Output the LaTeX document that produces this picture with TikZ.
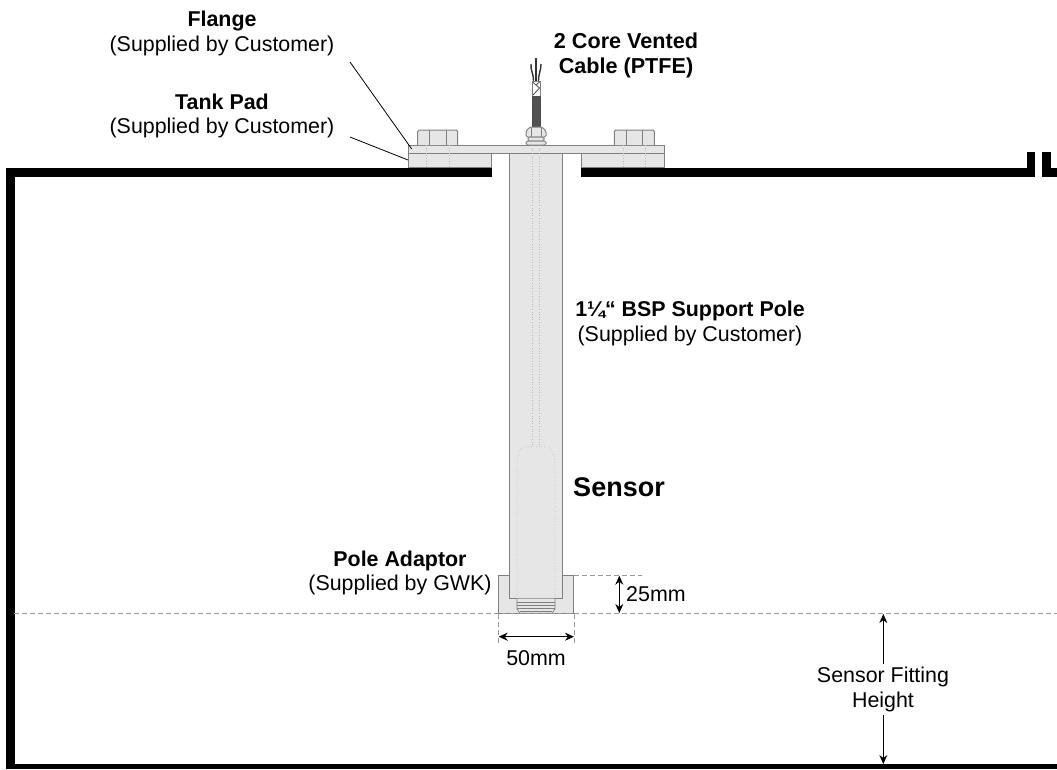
\documentclass[tikz,border=0pt]{standalone}
\usepackage{fontspec}
\setmainfont{Liberation Sans}
\usetikzlibrary{arrows.meta}
\definecolor{partfill}{HTML}{E6E6E6}
\definecolor{partline}{HTML}{808080}
\definecolor{dashgrey}{HTML}{999999}
\tikzset{
  x=1pt,y=-1pt,
  wall/.style={fill=black,draw=none},
  part/.style={fill=partfill,draw=partline,line width=1pt},
  hidden/.style={draw=partline!55,line width=.6pt,dotted},
  edge/.style={draw=partline,line width=.8pt},
  dim/.style={draw=black,line width=1pt,{Stealth[length=9pt,width=8pt]}-{Stealth[length=9pt,width=8pt]}},
  dimone/.style={draw=black,line width=1pt,-{Stealth[length=9pt,width=8pt]}},
  leader/.style={draw=black,line width=.8pt},
  guide/.style={draw=dashgrey,line width=.9pt,dash pattern=on 5pt off 3pt},
  label/.style={align=center,inner sep=0pt,font=\fontsize{21.4}{24.5}\selectfont},
  strong/.style={label,font=\fontsize{21.6}{25.5}\selectfont\bfseries},
}
\begin{document}
\begin{tikzpicture}
\useasboundingbox (0,0) rectangle (1057,769);
\fill[white] (0,0) rectangle (1057,769);

% tank walls
\fill[wall] (6,167.5) rectangle (491.7,176.5);
\fill[wall] (6,167.5) rectangle (15,769);
\fill[wall] (6,764) rectangle (1057,769);
\fill[wall] (580.7,167.5) rectangle (1035,176.5);
\fill[wall] (1027,152) rectangle (1035,176.5);
\fill[wall] (1042,152) rectangle (1051,176.5);
\fill[wall] (1042,167.5) rectangle (1057,176.5);

% tank pads, pole, flange
\draw[part] (408,153) rectangle (491,167.5);
\draw[part] (581,153) rectangle (664.3,167.5);
\draw[part] (498.5,575.7) rectangle (573.7,613.5);
\draw[part] (509.3,153) rectangle (562.7,598.7);
\draw[part] (408,145) rectangle (664.3,153);

% bolts
\draw[part,rounded corners=1.5pt] (417.7,145) -- (417.7,130) -- (457.7,130) -- (457.7,145);
\draw[edge] (429.3,130) -- (429.3,145) (446,130) -- (446,145);
\draw[part,rounded corners=1.5pt] (614.3,145) -- (614.3,130) -- (654.3,130) -- (654.3,145);
\draw[edge] (626,130) -- (626,145) (642.7,130) -- (642.7,145);

% hidden lines
\draw[hidden] (426.3,145) -- (426.3,167) (449,145) -- (449,167);
\draw[hidden] (623.3,145) -- (623.3,167) (645.3,145) -- (645.3,167);
\draw[hidden] (532.3,140) -- (532.3,446.7) (539.3,140) -- (539.3,446.7);
\draw[hidden] (517,598.7) -- (517,470) .. controls (517,456) and (519,447) .. (526,446.7)
  -- (546,446.7) .. controls (553,447) and (555,456) .. (555,470) -- (555,598.7);

% sensor thread
\draw[part,line width=.7pt] (517,598.7) -- (517,609) -- (520,613.3) -- (552,613.3) -- (555,609) -- (555,598.7);
\draw[edge,line width=.6pt] (517,602) -- (555,602) (517,605) -- (555,605) (517,608.5) -- (555,608.5) (520,611) -- (552,611);

% cable
\draw[black!80,line width=1.4pt] (533.5,81) .. controls (533.5,73) and (530.5,71) .. (531,64);
\draw[black!80,line width=1.4pt] (536,81) -- (536,58);
\draw[black!80,line width=1.4pt] (538.5,81) .. controls (538.5,73) and (541,71) .. (541,64);
\draw[draw=partline,fill=white,line width=1pt] (532.3,81) rectangle (540,96);
\draw[black!70,line width=.8pt] (532.5,82) -- (539.5,88) -- (533,95) (539.5,82) -- (536,85);
\draw[draw=black!70,fill=black!68,line width=1pt] (532.3,96) rectangle (540,127);

% gland
\draw[part,rounded corners=1.5pt] (526,137) -- (526,131) -- (530,127) -- (542,127) -- (546,131) -- (546,137) -- cycle;
\draw[part,rounded corners=1.5pt] (528,137) rectangle (544,141);
\draw[part,rounded corners=1.5pt] (526,141) rectangle (546,145);
\draw[edge,line width=.6pt] (531,128) -- (531,137) (541,128) -- (541,137);

% hidden dashed guides
\draw[guide] (14,613.5) -- (1057,613.5);
\coordinate (top25) at (619.3,575.7);
\coordinate (bot25) at (619.3,613);
\coordinate (left50) at (498.7,636.7);
\coordinate (right50) at (574,636.7);
\draw[guide] (574,575.7) -- (642,575.7);
\draw[guide] (498.7,614) -- (498.7,644);
\draw[guide] (574,614) -- (574,644);

% labels
\node[label,anchor=center] (flange) at (222,33.5) {\textbf{Flange}\\(Supplied by Customer)};
\node[label,anchor=center] (tankpad) at (222,116) {\textbf{Tank Pad}\\(Supplied by Customer)};
\node[strong,anchor=center] (cablelab) at (626,55.5) {2 Core Vented\\Cable (PTFE)};
\node[label,anchor=center] (polelab) at (690,323.5) {\textbf{1¼“ BSP Support Pole}\\(Supplied by Customer)};
\node[strong,font=\fontsize{27}{30}\selectfont\bfseries] (sensor) at (619,487.5) {Sensor};
\node[label,anchor=center] (adaptor) at (400,573) {\textbf{Pole Adaptor}\\(Supplied by GWK)};
\node[label,anchor=west] (mm25) at (626,594) {25mm};
\node[label] (mm50) at (536,658.5) {50mm};
\node[label] (fitting) at (883,689.5) {Sensor Fitting\\Height};

% leaders
\coordinate (flangeStart) at (350,62);
\coordinate (flangeEnd) at (411.7,149);
\coordinate (padStart) at (350,137);
\coordinate (padEnd) at (408,160);
\draw[leader] (flangeStart) -- (flangeEnd);
\draw[leader] (padStart) -- (padEnd);

% dimensions
\draw[dim] (top25) -- (bot25);
\draw[dim] (left50) -- (right50);
\coordinate (fitTop) at (883.3,614);
\coordinate (fitBot) at (883.3,764);
\draw[dimone] (fitting.north -| fitTop) ++(0,-3) -- (fitTop);
\draw[dimone] (fitting.south -| fitBot) ++(0,3) -- (fitBot);
\end{tikzpicture}
\end{document}
